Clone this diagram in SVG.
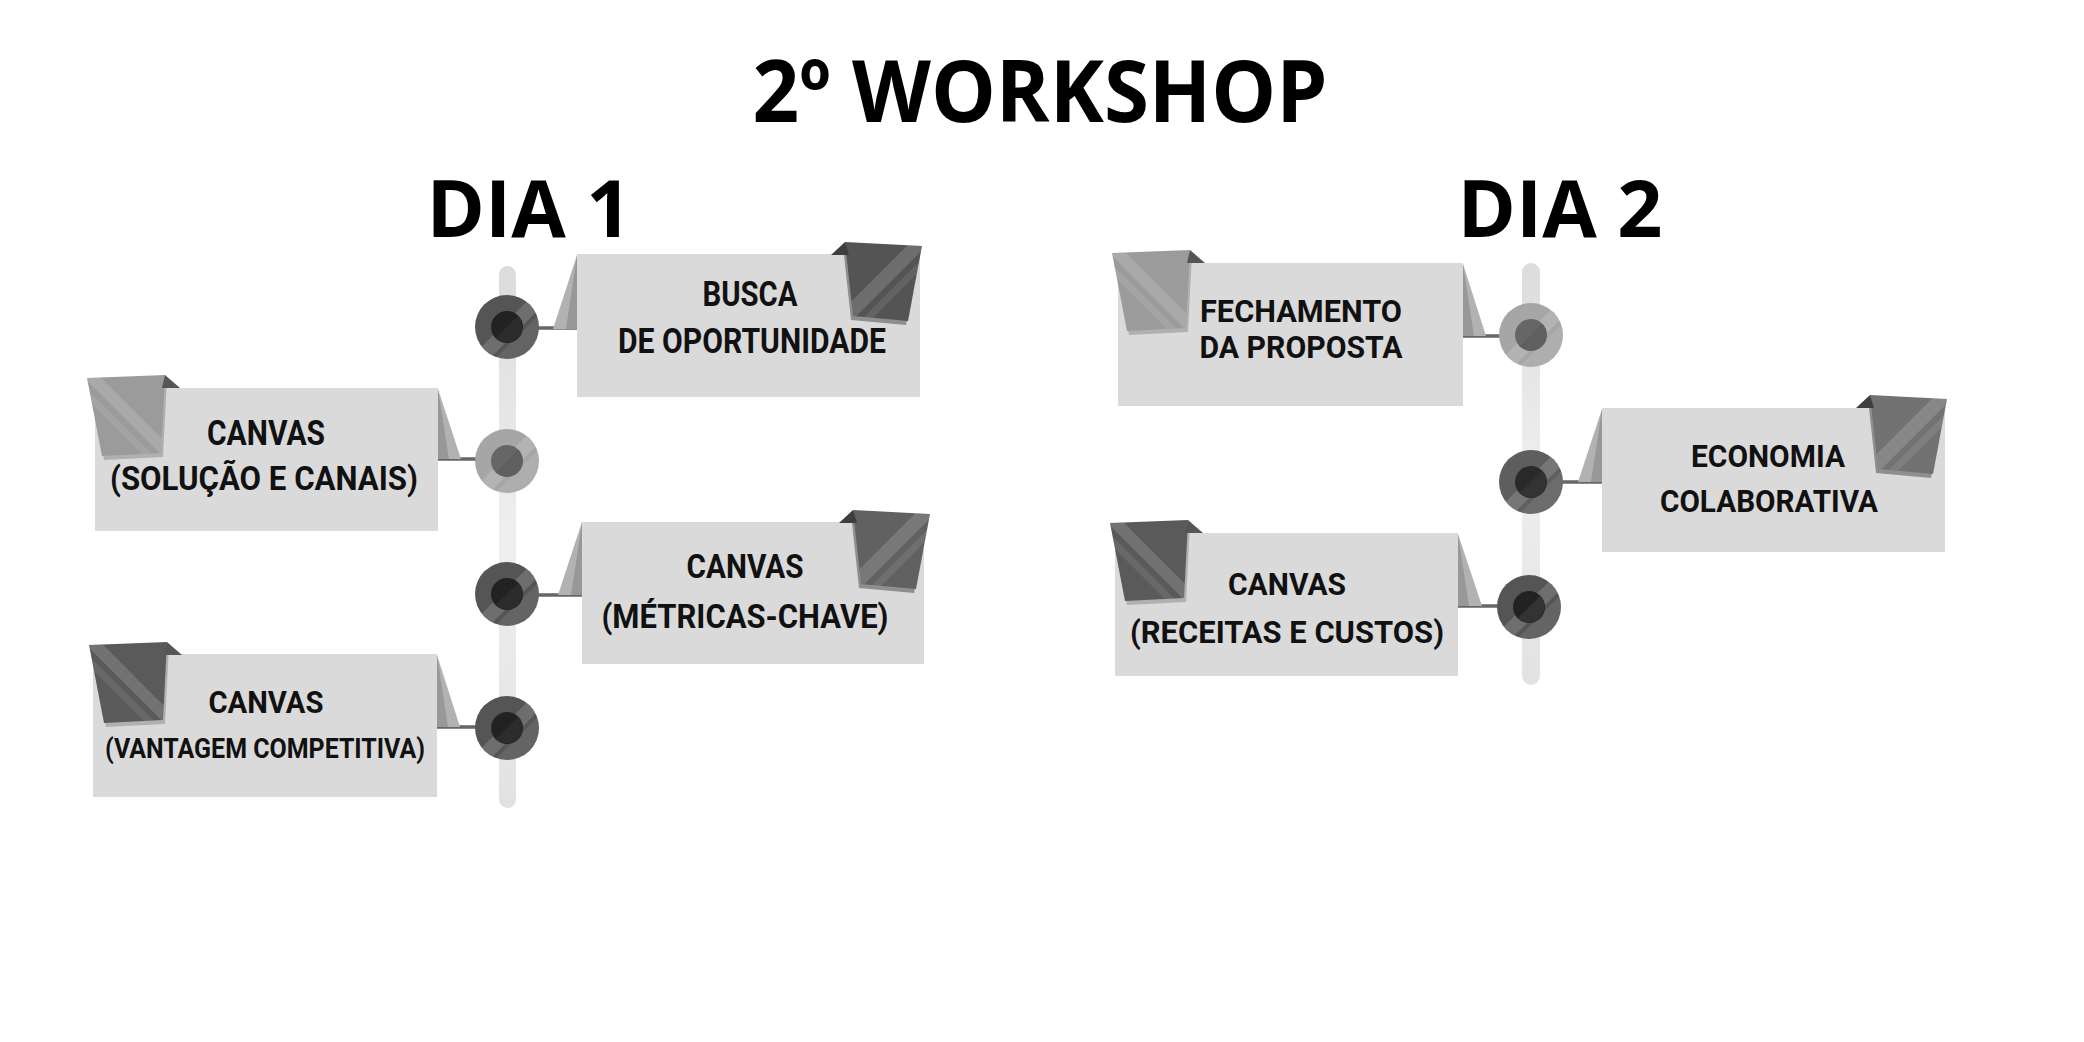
<svg xmlns="http://www.w3.org/2000/svg" width="2084" height="1042" viewBox="0 0 2084 1042">
<style>
.h{font-family:"Open Sans","DejaVu Sans",sans-serif;font-weight:700;fill:#000;text-anchor:middle}
.t{font-family:Roboto,"Liberation Sans",sans-serif;font-weight:700;fill:#111;text-anchor:middle;font-size:35px}
.m{font-size:33px}
.n{font-size:31px}
.s{font-size:28px}
.box{fill:#dadada}
.fo{fill:#b2b2b2}
.fi{fill:#989898}
.con{stroke:#666;stroke-width:3.5;fill:none}
.st{fill:#fff;opacity:.15}
.st2{fill:#fff;opacity:.09}
.bar{fill:url(#barg)}
</style>
<defs>
<linearGradient id="barg" x1="0" y1="0" x2="0" y2="1">
<stop offset="0" stop-color="#dcdcdc"/><stop offset=".5" stop-color="#efefef"/><stop offset="1" stop-color="#e2e2e2"/>
</linearGradient>
<clipPath id="clipR"><path d="M0,0 L77,4 L63,79 L8,74Z"/></clipPath>
<clipPath id="clipL"><path d="M0,0 L-78,3 L-63,81 L-4,78Z"/></clipPath>
<clipPath id="clipC"><circle r="32"/></clipPath>
<g id="flagR">
<path d="M-2,4 L75,8 L61,83 L6,78Z" fill="#8f8f8f"/>
<path d="M0,0 L77,4 L63,79 L8,74Z"/>
<g clip-path="url(#clipR)"><g transform="translate(37,40) rotate(-45)"><rect class="st" x="-80" y="-8" width="160" height="14"/><rect class="st2" x="-80" y="12" width="160" height="7"/></g></g>
<path d="M-14,13 L0,0 L4,13Z" fill="#3e3e3e"/>
</g>
<g id="flagL">
<path d="M2,4 L-76,7 L-61,85 L-2,82Z" fill="#b0b0b0"/>
<path d="M0,0 L-78,3 L-63,81 L-4,78Z"/>
<g clip-path="url(#clipL)"><g transform="translate(-38,40) rotate(45)"><rect class="st" x="-80" y="-8" width="160" height="12"/><rect class="st2" x="-80" y="10" width="160" height="7"/></g></g>
<path d="M0,0 L15,13 L-3,13Z" fill="#555"/>
</g>
<g id="stripesC">
<g clip-path="url(#clipC)"><g transform="rotate(-45)"><rect class="st" x="-40" y="-4" width="80" height="14"/><rect class="st2" x="-40" y="14" width="80" height="22"/></g></g>
</g>
</defs>
<rect width="2084" height="1042" fill="#fff"/>
<text class="h" x="1040" y="122" font-size="86" textLength="575" lengthAdjust="spacingAndGlyphs">2º WORKSHOP</text>
<text class="h" x="529" y="237" font-size="79">DIA 1</text>
<text class="h" x="1560" y="237" font-size="79">DIA 2</text>
<g id="timelines">
<rect class="bar" x="499" y="266" width="17" height="542" rx="8.5"/>
<rect class="bar" x="1522" y="263" width="18" height="422" rx="9"/>
</g>
<g id="connectors">
<line class="con" x1="536" y1="328" x2="577" y2="328"/>
<line class="con" x1="438" y1="459" x2="478" y2="459"/>
<line class="con" x1="536" y1="595" x2="582" y2="595"/>
<line class="con" x1="437" y1="727" x2="478" y2="727"/>
<line class="con" x1="1463" y1="336" x2="1502" y2="336"/>
<line class="con" x1="1560" y1="482" x2="1602" y2="482"/>
<line class="con" x1="1458" y1="606" x2="1500" y2="606"/>
</g>
<g id="node-busca">
<path class="fo" d="M577,255 L553,329 L577,329Z"/><path class="fi" d="M577,255 L566,329 L577,329Z"/>
<rect class="box" x="577" y="254" width="343" height="143"/>
<use href="#flagR" transform="translate(845,242)" fill="#545454"/>
<text class="t" x="750" y="306" font-size="36" textLength="95" lengthAdjust="spacingAndGlyphs">BUSCA</text>
<text class="t" x="752" y="353" textLength="268" lengthAdjust="spacingAndGlyphs">DE OPORTUNIDADE</text>
<g transform="translate(507,327)"><circle r="32" fill="#555"/><use href="#stripesC"/><circle r="16" fill="#222"/><path d="M-11.3,11.3 A16,16 0 0 0 11.3,-11.3Z" fill="#2c2c2c"/></g>
</g>
<g id="node-solucao">
<path class="fo" d="M438,389 L461,459 L438,459Z"/><path class="fi" d="M438,389 L449,459 L438,459Z"/>
<rect class="box" x="95" y="388" width="343" height="143"/>
<use href="#flagL" transform="translate(165,375)" fill="#9b9b9b"/>
<text class="t" x="266" y="445" textLength="118" lengthAdjust="spacingAndGlyphs">CANVAS</text>
<text class="t m" x="264" y="490" textLength="308" lengthAdjust="spacingAndGlyphs">(SOLUÇÃO E CANAIS)</text>
<g transform="translate(507,461)"><circle r="32" fill="#a6a6a6"/><use href="#stripesC"/><circle r="16" fill="#666"/><path d="M-11.3,11.3 A16,16 0 0 0 11.3,-11.3Z" fill="#5f5f5f"/></g>
</g>
<g id="node-metricas">
<path class="fo" d="M582,522 L558,595 L582,595Z"/><path class="fi" d="M582,522 L571,595 L582,595Z"/>
<rect class="box" x="582" y="522" width="342" height="142"/>
<use href="#flagR" transform="translate(853,510)" fill="#616161"/>
<text class="t m" x="745" y="578" textLength="117" lengthAdjust="spacingAndGlyphs">CANVAS</text>
<text class="t m" x="745" y="628" textLength="287" lengthAdjust="spacingAndGlyphs">(MÉTRICAS-CHAVE)</text>
<g transform="translate(507,594)"><circle r="32" fill="#555"/><use href="#stripesC"/><circle r="16" fill="#222"/><path d="M-11.3,11.3 A16,16 0 0 0 11.3,-11.3Z" fill="#2c2c2c"/></g>
</g>
<g id="node-vantagem">
<path class="fo" d="M437,655 L460,727 L437,727Z"/><path class="fi" d="M437,655 L448,727 L437,727Z"/>
<rect class="box" x="93" y="654" width="344" height="143"/>
<use href="#flagL" transform="translate(167,642)" fill="#5a5a5a"/>
<text class="t n" x="266" y="713" textLength="115" lengthAdjust="spacingAndGlyphs">CANVAS</text>
<text class="t s" x="265" y="758" textLength="320" lengthAdjust="spacingAndGlyphs">(VANTAGEM COMPETITIVA)</text>
<g transform="translate(507,728)"><circle r="32" fill="#555"/><use href="#stripesC"/><circle r="16" fill="#222"/><path d="M-11.3,11.3 A16,16 0 0 0 11.3,-11.3Z" fill="#2c2c2c"/></g>
</g>
<g id="node-fechamento">
<path class="fo" d="M1463,264 L1486,336 L1463,336Z"/><path class="fi" d="M1463,264 L1474,336 L1463,336Z"/>
<rect class="box" x="1118" y="263" width="345" height="143"/>
<use href="#flagL" transform="translate(1190,250)" fill="#9b9b9b"/>
<text class="t n" x="1301" y="322" textLength="202" lengthAdjust="spacingAndGlyphs">FECHAMENTO</text>
<text class="t n" x="1301" y="358" textLength="203" lengthAdjust="spacingAndGlyphs">DA PROPOSTA</text>
<g transform="translate(1531,335)"><circle r="32" fill="#a6a6a6"/><use href="#stripesC"/><circle r="16" fill="#666"/><path d="M-11.3,11.3 A16,16 0 0 0 11.3,-11.3Z" fill="#5f5f5f"/></g>
</g>
<g id="node-economia">
<path class="fo" d="M1602,409 L1578,482 L1602,482Z"/><path class="fi" d="M1602,409 L1591,482 L1602,482Z"/>
<rect class="box" x="1602" y="408" width="343" height="144"/>
<use href="#flagR" transform="translate(1870,395)" fill="#727272"/>
<text class="t n" x="1768" y="467" textLength="154" lengthAdjust="spacingAndGlyphs">ECONOMIA</text>
<text class="t n" x="1769" y="512" textLength="218" lengthAdjust="spacingAndGlyphs">COLABORATIVA</text>
<g transform="translate(1531,482)"><circle r="32" fill="#5e5e5e"/><use href="#stripesC"/><circle r="16" fill="#2a2a2a"/><path d="M-11.3,11.3 A16,16 0 0 0 11.3,-11.3Z" fill="#333"/></g>
</g>
<g id="node-receitas">
<path class="fo" d="M1458,534 L1482,606 L1458,606Z"/><path class="fi" d="M1458,534 L1469,606 L1458,606Z"/>
<rect class="box" x="1115" y="533" width="343" height="143"/>
<use href="#flagL" transform="translate(1188,520)" fill="#5a5a5a"/>
<text class="t n" x="1287" y="595" textLength="118" lengthAdjust="spacingAndGlyphs">CANVAS</text>
<text class="t n" x="1287" y="643" textLength="314" lengthAdjust="spacingAndGlyphs">(RECEITAS E CUSTOS)</text>
<g transform="translate(1529,607)"><circle r="32" fill="#555"/><use href="#stripesC"/><circle r="16" fill="#222"/><path d="M-11.3,11.3 A16,16 0 0 0 11.3,-11.3Z" fill="#333"/></g>
</g>
</svg>
